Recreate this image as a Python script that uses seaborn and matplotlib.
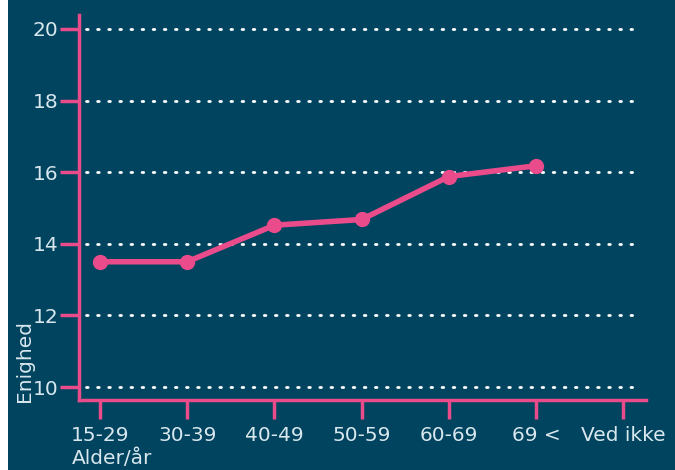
import numpy as np
import pandas as pd
import matplotlib
matplotlib.use('Agg')
import matplotlib.pyplot as plt
import seaborn as sns
from matplotlib.patches import Rectangle

# data
age_groups = ['15-29', '30-39', '40-49', '50-59', '60-69', '69 <', 'Ved ikke']
agreement = [13.5, 13.5, 14.52, 14.68, 15.88, 16.18, np.nan]
y_ticks = [10, 12, 14, 16, 18, 20]

bg = '#00445f'
pink = '#ea4b8b'
txt = '#d9e7ee'

sns.set_theme(style='white')
plt.rcParams['font.family'] = ['DejaVu Sans']

df = pd.DataFrame({'pos': np.arange(len(age_groups)), 'val': agreement})

fig = plt.figure(figsize=(6.75, 4.7), dpi=100, facecolor=bg)
fig.patches.append(Rectangle((0, 0), 8 / 675, 1, transform=fig.transFigure,
                             facecolor='white', edgecolor='none', zorder=-1))
ax = fig.add_axes([79 / 675, 1 - 400 / 470, (646 - 79) / 675, (400 - 15) / 470])
ax.set_facecolor(bg)

sns.lineplot(data=df.dropna(), x='pos', y='val', ax=ax, color=pink, linewidth=4,
             marker='o', markersize=11, markeredgewidth=0, zorder=5)

for y in y_ticks:
    ax.axhline(y, xmin=0.012, xmax=0.982, color='white', linestyle=(0, (0.6, 3.4)),
               linewidth=2, dash_capstyle='round', zorder=1)

ax.set_xlim(-0.24, 6.26)
ax.set_ylim(9.64, 20.39)
ax.set_xticks(df['pos'])
ax.set_xticklabels(age_groups)
ax.set_yticks(y_ticks)

for s in ['top', 'right']:
    ax.spines[s].set_visible(False)
for s in ['left', 'bottom']:
    ax.spines[s].set_color(pink)
    ax.spines[s].set_linewidth(2.5)

ax.tick_params(axis='both', bottom=True, left=True, colors=pink, width=2.5, length=14,
               labelcolor=txt, labelsize=14.5, direction='out')
ax.tick_params(axis='x', pad=5)
ax.tick_params(axis='y', pad=1)

ax.set_xlabel('')
ax.set_ylabel('')
fig.text(72 / 675, 1 - 458 / 470, 'Alder/år', color=txt, fontsize=14.5,
         ha='left', va='center')
fig.text(24 / 675, 1 - 402 / 470, 'Enighed', color=txt, fontsize=14.5,
         rotation=90, ha='center', va='bottom')

fig.savefig('out.png', dpi=100, facecolor=bg)
